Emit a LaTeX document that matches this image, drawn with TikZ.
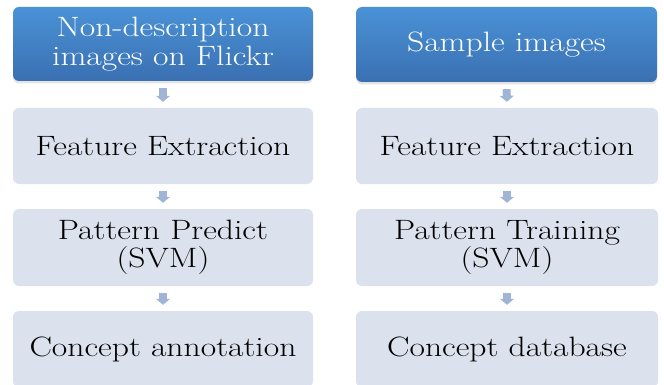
\documentclass[tikz,border=0pt]{standalone}
\usepackage{fontspec}
\setmainfont{Latin Modern Roman}[FakeStretch=1.2]
\usetikzlibrary{arrows.meta,shadows,shadings}
\definecolor{bluetop}{RGB}{74,146,214}
\definecolor{bluebot}{RGB}{58,112,178}
\definecolor{grayfill}{RGB}{220,225,238}
\definecolor{arrowc}{RGB}{160,180,214}
\tikzset{
  headbox/.style={rectangle, rounded corners=6pt, minimum width=300pt, minimum height=74pt,
    top color=bluetop, bottom color=bluebot, text=white, align=center,
    font=\fontsize{28}{29}\selectfont,
    drop shadow={shadow xshift=0pt, shadow yshift=-2.5pt, opacity=0.22}},
  stepbox/.style={rectangle, rounded corners=6pt, minimum width=300pt, minimum height=76pt,
    fill=grayfill, text=black, align=center, font=\fontsize{28}{28}\selectfont},
  conn/.style={draw=arrowc, line width=8pt, -{Triangle[width=14pt,length=6pt]},
    shorten <=7pt, shorten >=6pt}
}
\begin{document}
\begin{tikzpicture}[x=1pt,y=-1pt]
\useasboundingbox (0,0) rectangle (664,385);
% left column
\node[headbox] (l1) at (163,44) {Non-description\\images on Flickr};
\node[stepbox] (l2) at (163,146) {Feature Extraction};
\node[stepbox, minimum height=77pt] (l3) at (163,247.5) {Pattern Predict\\(SVM)};
\node[stepbox] (l4) at (163,349) {Concept annotation};
% right column
\node[headbox, minimum width=301pt, minimum height=75pt] (r1) at (506.5,44.5) {Sample images};
\node[stepbox, minimum width=302pt] (r2) at (507,146) {Feature Extraction};
\node[stepbox, minimum width=302pt, minimum height=77pt] (r3) at (507,247.5) {Pattern Training\\(SVM)};
\node[stepbox, minimum width=302pt] (r4) at (507,349) {Concept database};
% connectors
\draw[conn] (l1.south) -- (l2.north);
\draw[conn] (l2.south) -- (l3.north);
\draw[conn] (l3.south) -- (l4.north);
\draw[conn] (r1.south) -- (r2.north);
\draw[conn] (r2.south) -- (r3.north);
\draw[conn] (r3.south) -- (r4.north);
\end{tikzpicture}
\end{document}
